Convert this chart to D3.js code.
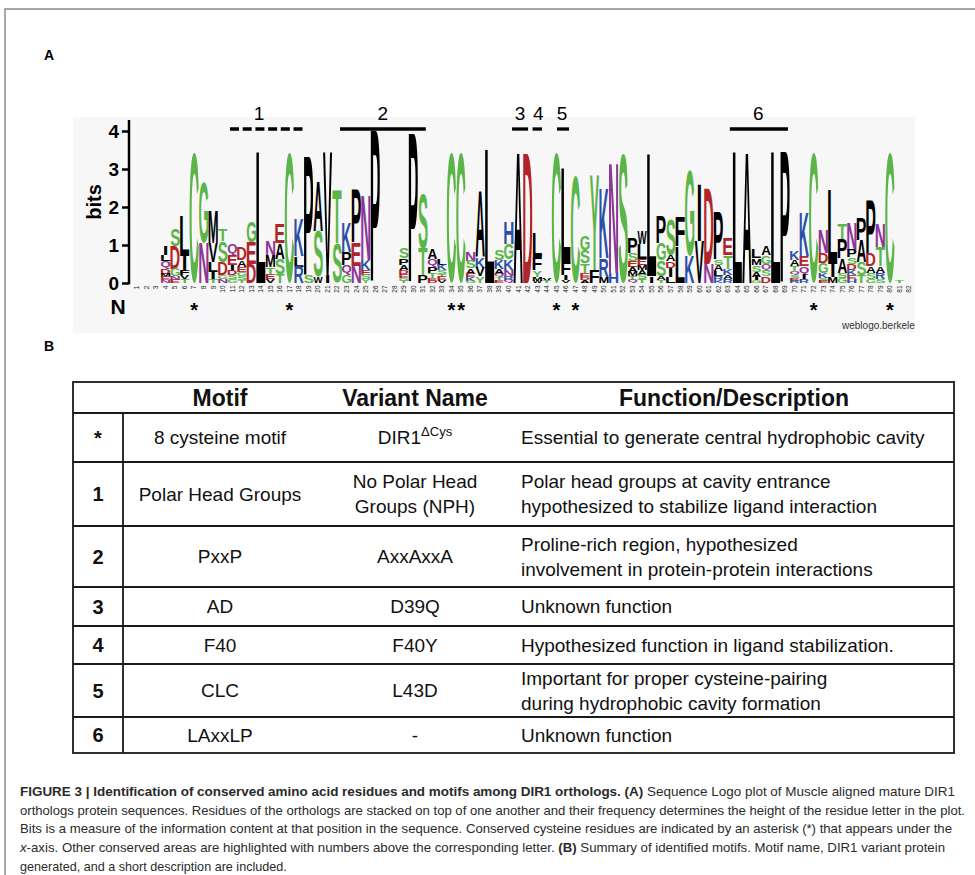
<!DOCTYPE html>
<html><head><meta charset="utf-8">
<script src="https://cdn.jsdelivr.net/npm/d3@7"></script>
<style>body{margin:0;background:#fff;} svg{display:block;}</style>
</head><body><svg id="fig" width="975" height="875"></svg>
<script>
// ---------------- DATA ----------------
const positions = d3.range(1, 83);
const yTicks = [0, 1, 2, 3, 4];
// each column: letters from top to bottom, [residue, bits]
const logoColumns = [
 [], [], [],
 [["I",0.25],["L",0.18],["Q",0.2],["D",0.12],["M",0.1],["E",0.08],["N",0.07]],
 [["S",0.45],["D",0.6],["G",0.2],["N",0.1],["E",0.08]],
 [["L",1.05],["I",0.4],["F",0.12],["V",0.1],["T",0.1]],
 [["C",3.45]],
 [["G",1.6],["N",1.05]],
 [["M",0.85],["V",0.5],["L",0.25],["I",0.2],["T",0.1]],
 [["T",0.3],["S",0.55],["D",0.35],["G",0.1],["N",0.1]],
 [["Q",0.3],["E",0.25],["I",0.15],["D",0.12],["S",0.1],["G",0.1]],
 [["D",0.32],["A",0.18],["E",0.14],["G",0.1],["S",0.1],["T",0.08]],
 [["G",0.55],["E",0.57],["D",0.5]],
 [["L",3.45]],
 [["N",0.42],["M",0.3],["T",0.18],["E",0.13],["V",0.1]],
 [["E",0.5],["A",0.42],["S",0.4],["T",0.22]],
 [["C",3.45]],
 [["K",1.0],["L",0.27],["R",0.43]],
 [["P",3.15],["S",0.2]],
 [["A",1.3],["S",1.2],["W",0.17]],
 [["V",3.25],["I",0.2]],
 [["T",1.4],["S",1.05]],
 [["K",0.8],["P",0.35],["Q",0.27],["G",0.2]],
 [["P",1.4],["E",0.6],["N",0.45]],
 [["N",1.7],["K",0.27],["E",0.12],["S",0.12],["Y",0.1]],
 [["P",4.0]],
 [], [],
 [["S",0.27],["P",0.18],["A",0.13],["D",0.1],["E",0.1],["G",0.08],["T",0.06]],
 [["P",3.95]],
 [["S",1.45],["T",0.7],["P",0.2]],
 [["A",0.28],["Q",0.22],["P",0.17],["T",0.12],["E",0.07],["D",0.06]],
 [["L",0.18],["K",0.15],["S",0.1],["T",0.08],["E",0.08],["V",0.07]],
 [["C",3.45]],
 [["C",3.45]],
 [["N",0.22],["S",0.2],["A",0.14],["E",0.1],["K",0.1],["G",0.05]],
 [["A",1.75],["K",0.28],["V",0.22],["Y",0.18]],
 [["L",3.5]],
 [["S",0.28],["K",0.22],["A",0.13],["Q",0.1],["T",0.08],["E",0.07]],
 [["H",0.57],["G",0.4],["K",0.27],["N",0.17],["R",0.1],["Q",0.08]],
 [["A",3.45]],
 [["D",3.4]],
 [["L",0.62],["F",0.35],["Y",0.17],["M",0.1],["W",0.06]],
 [["V",0.05],["T",0.05]],
 [["C",3.45]],
 [["L",2.45],["F",0.35],["I",0.12],["V",0.08]],
 [["C",2.8]],
 [["G",0.37],["S",0.35],["T",0.25],["E",0.1],["D",0.08],["A",0.08]],
 [["Y",2.5],["F",0.35]],
 [["K",1.85],["R",0.48],["M",0.17]],
 [["N",2.9],["H",0.26]],
 [["S",3.4]],
 [["P",0.42],["S",0.2],["E",0.15],["A",0.13],["M",0.12],["T",0.1],["Q",0.08]],
 [["W",0.35],["L",0.4],["E",0.15],["M",0.13],["A",0.12],["S",0.12],["T",0.1]],
 [["L",3.2],["I",0.18]],
 [["P",0.7],["G",0.45],["S",0.42],["A",0.1],["T",0.08]],
 [["S",0.95],["A",0.15],["D",0.17],["I",0.25],["L",0.15]],
 [["F",0.8],["L",0.95]],
 [["G",2.25],["K",0.7]],
 [["I",1.5],["V",1.1]],
 [["D",2.0],["N",0.5]],
 [["P",1.25],["S",0.15],["A",0.15],["L",0.13],["R",0.1],["K",0.08]],
 [["E",0.45],["T",0.35],["K",0.18],["A",0.1],["R",0.1]],
 [["L",3.45]],
 [["A",3.45]],
 [["L",0.22],["M",0.18],["S",0.17],["A",0.13],["I",0.1],["G",0.07]],
 [["A",0.22],["G",0.22],["Q",0.17],["S",0.17],["D",0.17]],
 [["L",3.45]],
 [["P",3.45]],
 [["K",0.22],["A",0.17],["T",0.13],["Q",0.1],["S",0.08],["E",0.07],["R",0.06]],
 [["K",1.15],["E",0.27],["Q",0.22],["I",0.12],["R",0.1]],
 [["C",3.45]],
 [["N",0.6],["D",0.27],["G",0.27],["K",0.13],["S",0.08],["E",0.05]],
 [["L",1.95],["I",0.35],["M",0.15]],
 [["T",0.4],["P",0.5],["A",0.38],["S",0.15],["G",0.12]],
 [["N",0.7],["P",0.2],["S",0.17],["D",0.17],["K",0.13],["E",0.1],["H",0.1]],
 [["P",0.57],["A",0.57],["S",0.35],["T",0.2]],
 [["P",1.4],["D",0.32],["A",0.17],["S",0.17],["G",0.1]],
 [["N",0.6],["T",0.5],["A",0.17],["R",0.17],["S",0.1]],
 [["C",3.45]],
 [["T",0.05]],
 []
];
const cysteinePositions = [7, 17, 34, 35, 45, 47, 72, 80];
const motifBarLabels = ["1", "2", "3", "4", "5", "6"];
const motifBarStart = [10.76, 22.3, 40.35, 42.5, 45.07, 63.2];
const motifBarEnd   = [18.4, 31.3, 42.03, 43.5, 46.33, 69.3];
const motifBarLabelPos = [13.8, 26.8, 41.2, 43.1, 45.6, 66.2];
const motifBarDashed = [true, false, false, false, false, false];

const tableHeaders = ["Motif", "Variant Name", "Function/Description"];
const motifIds = ["*", "1", "2", "3", "4", "5", "6"];
const motifNames = ["8 cysteine motif", "Polar Head Groups", "PxxP", "AD", "F40", "CLC", "LAxxLP"];
const variantNames = [["DIR1|ΔCys"], ["No Polar Head", "Groups (NPH)"], ["AxxAxxA"], ["D39Q"], ["F40Y"], ["L43D"], ["-"]];
const descriptions = [
 ["Essential to generate central hydrophobic cavity"],
 ["Polar head groups at cavity entrance", "hypothesized to stabilize ligand interaction"],
 ["Proline-rich region, hypothesized", "involvement in protein-protein interactions"],
 ["Unknown function"],
 ["Hypothesized function in ligand stabilization."],
 ["Important for proper cysteine-pairing", "during hydrophobic cavity formation"],
 ["Unknown function"]
];
const captionLines = [
 [["FIGURE 3 | Identification of conserved amino acid residues and motifs among DIR1 orthologs. (A)", "b"], [" Sequence Logo plot of Muscle aligned mature DIR1", ""]],
 [["orthologs protein sequences. Residues of the orthologs are stacked on top of one another and their frequency determines the height of the residue letter in the plot.", ""]],
 [["Bits is a measure of the information content at that position in the sequence. Conserved cysteine residues are indicated by an asterisk (*) that appears under the", ""]],
 [["x", "i"], ["-axis. Other conserved areas are highlighted with numbers above the corresponding letter. ", ""], ["(B)", "b"], [" Summary of identified motifs. Motif name, DIR1 variant protein", ""]],
 [["generated, and a short description are included.", ""]]
];

// ---------------- LAYOUT / STYLE ----------------
const FONT = "'Liberation Sans', Arial, Helvetica, sans-serif";
const colorOf = ch => ("GSTYC".includes(ch) ? "#5bb548" : "NQ".includes(ch) ? "#8e3598" :
  "KRH".includes(ch) ? "#2c4fa6" : "DE".includes(ch) ? "#b2232a" : "#000");

const svg = d3.select("#fig");
svg.append("rect").attr("width", 975).attr("height", 875).attr("fill", "#fff");
// frame
svg.append("path").attr("d", "M5,875 V9 H975").attr("fill", "none").attr("stroke", "#8a8a8a").attr("stroke-width", 1.5);

// panel labels
svg.append("text").attr("x", 44).attr("y", 60).text("A").attr("font-family", "'Liberation Sans Narrow', " + FONT)
  .attr("font-weight", "bold").attr("font-size", 14);
svg.append("text").attr("x", 44).attr("y", 351).text("B").attr("font-family", "'Liberation Sans Narrow', " + FONT)
  .attr("font-weight", "bold").attr("font-size", 14);

// logo panel background
svg.append("rect").attr("x", 73).attr("y", 117).attr("width", 842).attr("height", 216).attr("fill", "#f7f7f7");
svg.append("clipPath").attr("id", "panelClip").append("rect").attr("x", 73).attr("y", 117).attr("width", 842).attr("height", 216);

const x = d3.scaleLinear().domain([1, 82]).range([137, 909]);
const y = d3.scaleLinear().domain([0, 4]).range([283, 131]);
const colW = x(2) - x(1);
const letterW = colW * 0.97;

// y axis
const yAxis = d3.axisLeft(y).tickValues(yTicks).tickFormat(d3.format("d")).tickSize(7).tickSizeOuter(0).tickPadding(3);
const ga = svg.append("g").attr("transform", "translate(129,0)").call(yAxis);
ga.select(".domain").remove();
ga.selectAll(".tick line").attr("stroke", "#000").attr("stroke-width", 2.5);
ga.selectAll(".tick text").attr("font-family", FONT).attr("font-weight", "bold").attr("font-size", 19).attr("fill", "#000");
ga.append("line").attr("x1", 0).attr("x2", 0).attr("y1", y(0) + 1.2).attr("y2", 120).attr("stroke", "#000").attr("stroke-width", 2.5);
svg.append("text").attr("transform", "translate(101,202) rotate(-90)").attr("text-anchor", "middle")
  .attr("font-family", FONT).attr("font-weight", "bold").attr("font-size", 20).text("bits");

// position numbers
svg.append("g").selectAll("text").data(positions).join("text")
  .attr("transform", d => `translate(${x(d) + 2.3},285.5) rotate(-90)`)
  .attr("text-anchor", "end").attr("font-family", FONT).attr("font-size", 6.5).attr("fill", "#222")
  .text(d => d);

// N label and asterisks
svg.append("text").attr("x", 118).attr("y", 314).attr("text-anchor", "middle").attr("font-family", FONT)
  .attr("font-weight", "bold").attr("font-size", 21).text("N");
svg.append("g").selectAll("text").data(cysteinePositions).join("text")
  .attr("x", d => x(d)).attr("y", 317).attr("text-anchor", "middle").attr("font-family", FONT)
  .attr("font-weight", "bold").attr("font-size", 20).text("*");

// letters
const mctx = document.createElement("canvas").getContext("2d");
mctx.font = `bold 100px ${FONT}`;
const mcache = {};
function gm(ch) {
  if (!mcache[ch]) {
    const m = mctx.measureText(ch);
    mcache[ch] = { l: m.actualBoundingBoxLeft, r: m.actualBoundingBoxRight, a: m.actualBoundingBoxAscent, d: m.actualBoundingBoxDescent };
  }
  return mcache[ch];
}
const gl = svg.append("g");
logoColumns.forEach((stack, i) => {
  const pos = positions[i];
  let top = y(d3.sum(stack, d => d[1]));
  stack.forEach(([ch, b]) => {
    const h = y(0) - y(b);
    const m = gm(ch);
    const inkW = m.l + m.r;
    const sx = letterW / Math.max(inkW, 45);
    const sy = h / (m.a + m.d);
    const leftX = x(pos) - inkW * sx / 2;
    gl.append("text").text(ch)
      .attr("transform", `translate(${leftX + m.l * sx},${top + m.a * sy}) scale(${sx},${sy})`)
      .attr("font-family", FONT).attr("font-weight", "bold").attr("font-size", 100)
      .attr("fill", colorOf(ch));
    top += h;
  });
});

// weblogo credit
svg.append("text").attr("x", 842).attr("y", 329).attr("clip-path", "url(#panelClip)")
  .attr("font-family", FONT).attr("font-size", 10).attr("fill", "#333").text("weblogo.berkeley.edu");

// motif bars
const gb = svg.append("g");
motifBarLabels.forEach((lab, i) => {
  gb.append("line").attr("x1", x(motifBarStart[i])).attr("x2", x(motifBarEnd[i]))
    .attr("y1", 129).attr("y2", 129).attr("stroke", "#000").attr("stroke-width", 3.3)
    .attr("stroke-dasharray", motifBarDashed[i] ? "9,3.7" : null);
  gb.append("text").attr("x", x(motifBarLabelPos[i])).attr("y", 120).attr("text-anchor", "middle")
    .attr("font-family", FONT).attr("font-size", 19).text(lab);
});

// ---------------- TABLE ----------------
const T = { left: 73, right: 954, top: 382, col1: 123, motifX: 220, variantX: 415, descX: 521, numX: 98 };
const rowEdges = [413, 462, 526, 587, 626, 664, 717, 753];
const gt = svg.append("g");
const tl = (x1, y1, x2, y2) => gt.append("line").attr("x1", x1).attr("y1", y1).attr("x2", x2).attr("y2", y2)
  .attr("stroke", "#1a1a1a").attr("stroke-width", 1.8);
gt.append("rect").attr("x", T.left).attr("y", T.top).attr("width", T.right - T.left).attr("height", rowEdges[rowEdges.length - 1] - T.top)
  .attr("fill", "#fff").attr("stroke", "#1a1a1a").attr("stroke-width", 1.8);
rowEdges.slice(0, -1).forEach(e => tl(T.left, e, T.right, e));
tl(T.col1, rowEdges[0], T.col1, rowEdges[rowEdges.length - 1]);
const headerX = [T.motifX, T.variantX, 734];
tableHeaders.forEach((h, i) => gt.append("text").attr("x", headerX[i]).attr("y", 406).attr("text-anchor", "middle")
  .attr("font-family", FONT).attr("font-weight", "bold").attr("font-size", 23).attr("fill", "#111").text(h));

function multiline(lines, xx, mid, anchor) {
  const lh = 25;
  lines.forEach((ln, k) => {
    const yy = mid + (k - (lines.length - 1) / 2) * lh + 6.5;
    const t = gt.append("text").attr("x", xx).attr("y", yy).attr("text-anchor", anchor)
      .attr("font-family", FONT).attr("font-size", 19).attr("fill", "#111");
    if (ln.includes("|")) {
      const [base, sup] = ln.split("|");
      t.append("tspan").text(base);
      t.append("tspan").attr("dy", -8).attr("font-size", 13).text(sup);
    } else t.text(ln);
  });
}
motifIds.forEach((id, i) => {
  const mid = (rowEdges[i] + rowEdges[i + 1]) / 2;
  gt.append("text").attr("x", T.numX).attr("y", mid + 7).attr("text-anchor", "middle")
    .attr("font-family", FONT).attr("font-weight", "bold").attr("font-size", 20).attr("fill", "#111").text(id);
  multiline([motifNames[i]], T.motifX, mid, "middle");
  multiline(variantNames[i], T.variantX, mid, "middle");
  multiline(descriptions[i], T.descX, mid, "start");
});

// ---------------- CAPTION ----------------
const capY = [796, 814.7, 833.4, 852.1, 870.8];
const capLen = [935, 945, 932, 925, null];
captionLines.forEach((segs, i) => {
  const t = svg.append("text").attr("x", 20).attr("y", capY[i]).attr("font-family", FONT)
    .attr("font-size", 12.6).attr("fill", "#2a2a2a");
  if (capLen[i]) t.attr("textLength", capLen[i]).attr("lengthAdjust", "spacingAndGlyphs");
  segs.forEach(([s, st]) => {
    const sp = t.append("tspan").text(s);
    if (st === "b") sp.attr("font-weight", "bold");
    if (st === "i") sp.attr("font-style", "italic");
  });
});
</script></body></html>
